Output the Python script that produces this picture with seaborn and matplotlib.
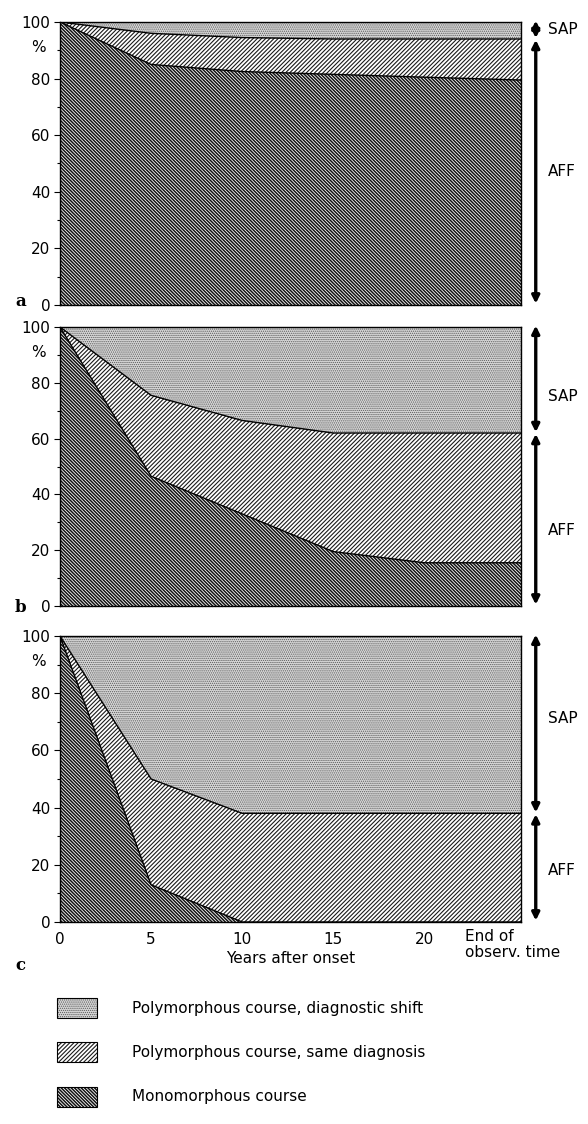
import matplotlib
matplotlib.use('Agg')
import matplotlib.pyplot as plt
from matplotlib.patches import Rectangle
import pandas as pd
import seaborn as sns

# years after onset; last point is the end of observation time
years = [0, 5, 10, 15, 20, 25.3]

# upper edge of "monomorphous course" layer (%), per panel
mono_a = [100, 85, 82.5, 81.5, 80.5, 79.5]
mono_b = [100, 46.5, 33, 19.5, 15.5, 15.5]
mono_c = [100, 13, 0, 0, 0, 0]

# upper edge of "polymorphous course, same diagnosis" layer (%), per panel
same_a = [100, 96, 94.5, 94, 94, 94]
same_b = [100, 75.5, 66.5, 62, 62, 62]
same_c = [100, 50, 38, 38, 38, 38]

panel_names = ['a', 'b', 'c']
y_ticks = [0, 20, 40, 60, 80, 100]
x_ticks = [0, 5, 10, 15, 20]
legend_labels = [
    'Polymorphous course, diagnostic shift',
    'Polymorphous course, same diagnosis',
    'Monomorphous course',
]

sns.set_style('white')
plt.rcParams['font.family'] = ['DejaVu Sans']
plt.rcParams.update({
    'text.color': 'black', 'axes.labelcolor': 'black',
    'xtick.color': 'black', 'ytick.color': 'black',
})

# (fill style, hatch line width)
SHIFT_STYLE = (dict(facecolor='#d6d6d6', edgecolor='#5a5a5a', hatch='........'), 0.6)
SAME_STYLE = (dict(facecolor='white', edgecolor='#1a1a1a', hatch='////////'), 0.8)
MONO_STYLE = (dict(facecolor='white', edgecolor='#111111', hatch='\\' * 10), 1.1)


def hatched_fill(ax, x, y1, y2, style):
    kw, hatch_lw = style
    with plt.rc_context({'hatch.linewidth': hatch_lw}):
        ax.fill_between(x, y1, y2, linewidth=0, **kw)


def hatched_rect(ax, xy, w, h, style):
    kw, hatch_lw = style
    with plt.rc_context({'hatch.linewidth': hatch_lw}):
        ax.add_patch(Rectangle(xy, w, h, linewidth=0, **kw))


fig = plt.figure(figsize=(5.88, 11.24), dpi=100)
W, H = 588, 1124
left, right = 60, 521
panel_rows = [(22, 305), (327, 606), (636, 922)]
letter_y = [302, 608, 966]
sap_label_y = [97.5, 75, 71]
aff_label_y = [47, 27, 18]

panels = [(mono_a, same_a), (mono_b, same_b), (mono_c, same_c)]
for idx, ((mono, same), (top, bottom)) in enumerate(zip(panels, panel_rows)):
    ax = fig.add_axes([left / W, 1 - bottom / H, (right - left) / W, (bottom - top) / H])
    df = pd.DataFrame({'year': years, 'mono': mono, 'same': same})
    df['full'] = 100

    hatched_fill(ax, df['year'], df['same'], df['full'], SHIFT_STYLE)
    hatched_fill(ax, df['year'], df['mono'], df['same'], SAME_STYLE)
    hatched_fill(ax, df['year'], 0, df['mono'], MONO_STYLE)
    sns.lineplot(data=df, x='year', y='mono', color='black', lw=1.0, ax=ax)
    sns.lineplot(data=df, x='year', y='same', color='black', lw=1.0, ax=ax)

    ax.set_xlim(years[0], years[-1])
    ax.set_ylim(0, 100)
    ax.set_yticks(y_ticks)
    ax.set_yticklabels([str(t) for t in y_ticks], fontsize=11)
    ax.set_yticks(range(10, 100, 20), minor=True)
    ax.tick_params(axis='y', which='major', left=True, length=4, width=0.8, pad=3, direction='out')
    ax.tick_params(axis='y', which='minor', left=True, length=2, width=0.8, direction='out')
    ax.set_ylabel('')
    for spine in ax.spines.values():
        spine.set_color('black')
        spine.set_linewidth(1.0)
    ax.text(-0.03, 0.91, '%', transform=ax.transAxes, ha='right', va='center', fontsize=11)

    # SAP / AFF double arrows on the right
    split = same[-1]
    arrow = dict(arrowstyle='<|-|>', color='black', lw=2.4, mutation_scale=11, shrinkA=0, shrinkB=0)
    ax.annotate('', xy=(1.032, 100.5), xytext=(1.032, split + 0.3),
                xycoords=('axes fraction', 'data'), textcoords=('axes fraction', 'data'),
                arrowprops=arrow, annotation_clip=False)
    ax.annotate('', xy=(1.032, split - 0.3), xytext=(1.032, 0.5),
                xycoords=('axes fraction', 'data'), textcoords=('axes fraction', 'data'),
                arrowprops=arrow, annotation_clip=False)
    ax.text(1.058, sap_label_y[idx], 'SAP', transform=ax.get_yaxis_transform(),
            ha='left', va='center', fontsize=11)
    ax.text(1.058, aff_label_y[idx], 'AFF', transform=ax.get_yaxis_transform(),
            ha='left', va='center', fontsize=11)

    if idx < 2:
        ax.set_xticks([])
        ax.set_xlabel('')
    else:
        ax.set_xticks(x_ticks)
        ax.set_xticklabels([str(t) for t in x_ticks], fontsize=11)
        ax.tick_params(axis='x', length=0, pad=7)
        ax.set_xlabel('Years after onset', fontsize=11, labelpad=3)
        ax.text(22.2, -0.025, 'End of\nobserv. time', transform=ax.get_xaxis_transform(),
                ha='left', va='top', fontsize=11, linespacing=1.05)
    fig.text(15 / W, 1 - letter_y[idx] / H, panel_names[idx], family='DejaVu Serif',
             weight='bold', fontsize=12, ha='left', va='center')

# legend drawn in pixel coordinates
ax_leg = fig.add_axes([0, 0, 1, 140 / H])
ax_leg.set_xlim(0, W)
ax_leg.set_ylim(H, H - 140)
ax_leg.axis('off')
for label, style, y in zip(legend_labels, [SHIFT_STYLE, SAME_STYLE, MONO_STYLE], [1008, 1052, 1097]):
    hatched_rect(ax_leg, (57, y - 10), 40, 20, style)
    ax_leg.add_patch(Rectangle((57, y - 10), 40, 20, fill=False, edgecolor='black', linewidth=0.8))
    ax_leg.text(132, y, label, ha='left', va='center', fontsize=11)

fig.savefig('out.png', dpi=100)
